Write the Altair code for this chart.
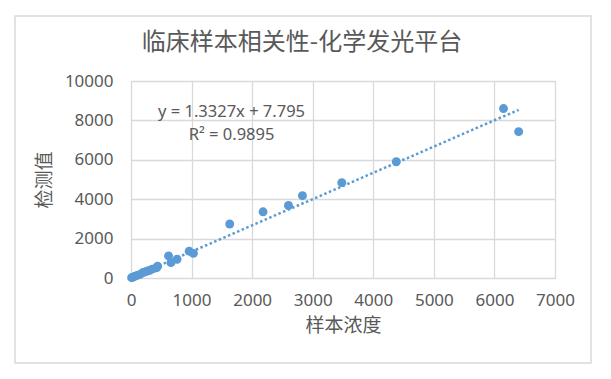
import altair as alt
import pandas as pd

# Sample concentration (x) and measured value (y)
conc = [10, 30, 60, 100, 150, 200, 250, 300, 350, 420, 440, 620, 660, 760,
        960, 1030, 1630, 2180, 2600, 2830, 3480, 4380, 6150, 6400]
measured = [15, 40, 80, 130, 180, 280, 330, 380, 450, 520, 600, 1120, 780, 950,
            1360, 1250, 2740, 3360, 3680, 4180, 4840, 5900, 8600, 7430]

slope = 1.3327
intercept = 7.795
eq_lines = ["y = 1.3327x + 7.795", "R² = 0.9895"]
eq_x = [1660, 1660]
eq_y = [8450, 7280]

title_text = "临床样本相关性-化学发光平台"
x_title = "样本浓度"
y_title = "检测值"

x_ticks = [0, 1000, 2000, 3000, 4000, 5000, 6000, 7000]
y_ticks = [0, 2000, 4000, 6000, 8000, 10000]

df = pd.DataFrame({"x": conc, "y": measured})
trend_x = [min(conc), max(conc)]
trend = pd.DataFrame({"x": trend_x, "y": [slope * v + intercept for v in trend_x]})
eq = pd.DataFrame({"x": eq_x, "y": eq_y, "t": eq_lines})

BLUE = "#5B9BD5"
GRAY = "#595959"
GRID = "#D9D9D9"
CJK = "Noto Sans CJK SC"
LAT = "Noto Sans"

xs = alt.Scale(domain=[0, 7000], nice=False, zero=False)
ys = alt.Scale(domain=[0, 10000], nice=False, zero=False)

xaxis = alt.Axis(values=x_ticks, format="d", labelOverlap=False, labelFlush=False,
                 grid=True, gridColor=GRID, gridWidth=1.3, domain=False,
                 ticks=False, labelFont=LAT, labelFontSize=17, labelColor=GRAY,
                 labelPadding=14, title=x_title, titleFont=CJK, titleFontSize=19,
                 titleColor=GRAY, titleFontWeight="normal", titlePadding=8)
yaxis = alt.Axis(values=y_ticks, format="d", labelOverlap=False, labelFlush=False,
                 grid=True, gridColor=GRID, gridWidth=1.3, domain=False,
                 ticks=False, labelFont=LAT, labelFontSize=17, labelColor=GRAY,
                 labelPadding=18, title=y_title, titleFont=CJK, titleFontSize=19,
                 titleColor=GRAY, titleFontWeight="normal", titlePadding=10)

border = alt.Chart(pd.DataFrame({"a": [0]})).mark_rect(
    fill=None, stroke=GRID, strokeWidth=1.5, clip=False
).encode(x=alt.value(-116), x2=alt.value(460), y=alt.value(-65), y2=alt.value(282))

title = alt.Chart(pd.DataFrame({"t": [title_text]})).mark_text(
    font=CJK, fontSize=24, color=GRAY, align="center", baseline="middle"
).encode(x=alt.value(171), y=alt.value(-38), text="t:N")

points = alt.Chart(df).mark_circle(size=80, color=BLUE, opacity=1).encode(
    x=alt.X("x:Q", scale=xs, axis=xaxis),
    y=alt.Y("y:Q", scale=ys, axis=yaxis),
)

line = alt.Chart(trend).mark_line(color=BLUE, strokeWidth=2.5, strokeDash=[2.5, 2.5]).encode(
    x=alt.X("x:Q", scale=xs, axis=xaxis), y=alt.Y("y:Q", scale=ys, axis=yaxis)
)

eqtext = alt.Chart(eq).mark_text(font=LAT, fontSize=16.5, color=GRAY, align="center",
                                 baseline="middle").encode(
    x=alt.X("x:Q", scale=xs, axis=xaxis), y=alt.Y("y:Q", scale=ys, axis=yaxis), text="t:N"
)

chart = alt.layer(border, title, line, points, eqtext).properties(
    width=424, height=197,
    autosize=alt.AutoSizeParams(type="none"),
    padding={"left": 123, "top": 73, "right": 40, "bottom": 92},
).configure_view(stroke=None).configure(background="white")

chart.save("out.html", embed_options={"renderer": "svg", "actions": False})
